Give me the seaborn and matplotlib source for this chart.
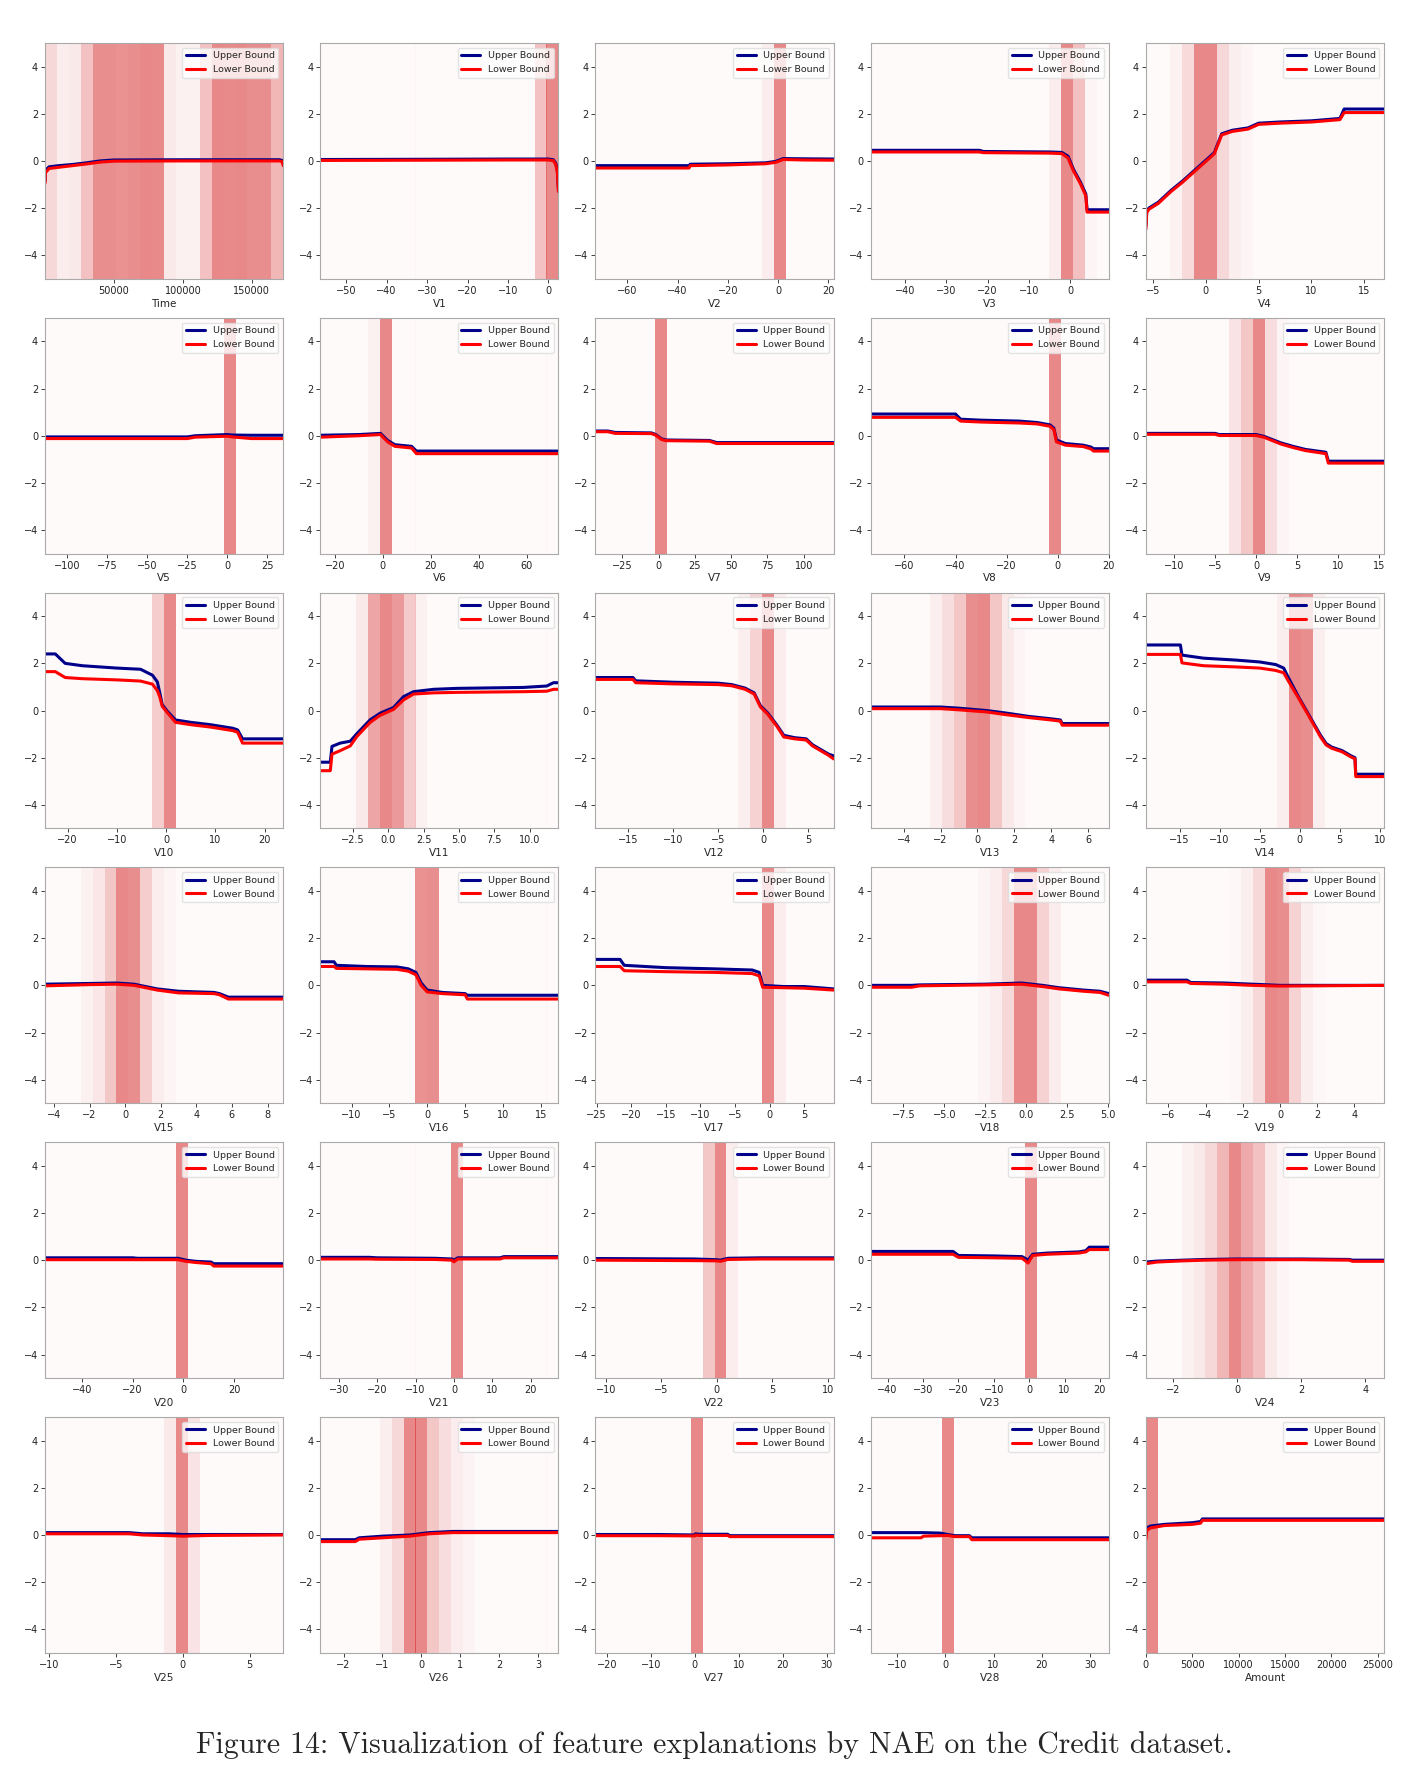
import numpy as np
import matplotlib
matplotlib.use("Agg")
import matplotlib.pyplot as plt
from matplotlib.colors import to_rgba
from matplotlib.ticker import FixedLocator
import seaborn as sns

# feature names and value ranges (min, max) of the Credit dataset
FEATURES = ["Time"] + ["V%d" % i for i in range(1, 29)] + ["Amount"]
X_RANGES = [(0, 172792), (-56.41, 2.45), (-72.72, 22.06), (-48.33, 9.38), (-5.68, 16.88),
            (-113.74, 34.80), (-26.16, 73.30), (-43.56, 120.59), (-73.22, 20.01), (-13.43, 15.59),
            (-24.59, 23.75), (-4.80, 12.02), (-18.68, 7.85), (-5.79, 7.13), (-19.21, 10.53),
            (-4.50, 8.88), (-14.13, 17.32), (-25.16, 9.25), (-9.50, 5.04), (-7.21, 5.59),
            (-54.50, 39.42), (-34.83, 27.20), (-10.93, 10.50), (-44.81, 22.53), (-2.84, 4.58),
            (-10.30, 7.52), (-2.60, 3.52), (-22.57, 31.61), (-15.43, 33.85), (0, 25691)]
# x tick spacing per panel
XTICK_STEP = [50000, 10, 20, 10, 5, 25, 20, 25, 20, 5,
              10, 2.5, 5, 2, 5, 2, 5, 5, 2.5, 2,
              20, 10, 5, 10, 2, 5, 1, 10, 10, 5000]
TIME_TICKS = [50000, 100000, 150000]

# density shading: 20 equal bins per feature, {bin index: relative level}
N_BINS = 20
TIME_LEVELS = [0.3, 0.12, 0.15, 0.5, 0.95, 0.95, 0.92, 0.95, 1.0, 0.98,
               0.15, 0.08, 0.08, 0.5, 1.0, 0.98, 1.0, 0.95, 0.95, 0.6]
BIN_LEVELS = [
    dict(enumerate(TIME_LEVELS)),
    {18: 0.5, 19: 1.0},
    {14: 0.12, 15: 1.0},
    {15: 0.12, 16: 1.0, 17: 0.5, 18: 0.04},
    {2: 0.07, 3: 0.28, 4: 1.0, 5: 1.0, 6: 0.3, 7: 0.1, 8: 0.04},
    {15: 1.0},
    {4: 0.08, 5: 1.0},
    {5: 1.0},
    {15: 1.0},
    {7: 0.2, 8: 0.45, 9: 1.0, 10: 0.25, 11: 0.04},
    {9: 0.4, 10: 1.0},
    {3: 0.15, 4: 0.75, 5: 1.0, 6: 0.85, 7: 0.42, 8: 0.08},
    {12: 0.1, 13: 0.35, 14: 1.0, 15: 0.12},
    {5: 0.1, 6: 0.25, 7: 0.45, 8: 0.95, 9: 1.0, 10: 0.45, 11: 0.15, 12: 0.04},
    {11: 0.1, 12: 1.0, 13: 0.95, 14: 0.1},
    {3: 0.08, 4: 0.18, 5: 0.45, 6: 1.0, 7: 0.95, 8: 0.4, 9: 0.12, 10: 0.04},
    {8: 0.92, 9: 0.95},
    {14: 1.0, 15: 0.12},
    {9: 0.04, 10: 0.12, 11: 0.3, 12: 1.0, 13: 1.0, 14: 0.35, 15: 0.12},
    {7: 0.03, 8: 0.1, 9: 0.3, 10: 1.0, 11: 0.95, 12: 0.35, 13: 0.1, 14: 0.03},
    {11: 1.0},
    {11: 1.0},
    {9: 0.45, 10: 1.0, 11: 0.12},
    {13: 1.0},
    {3: 0.08, 4: 0.15, 5: 0.3, 6: 0.6, 7: 1.0, 8: 0.7, 9: 0.5, 10: 0.15, 11: 0.04},
    {10: 0.15, 11: 1.0, 12: 0.2},
    {5: 0.1, 6: 0.3, 7: 1.0, 8: 1.0, 9: 0.45, 10: 0.25, 11: 0.12, 12: 0.06},
    {8: 1.0},
    {6: 1.0},
    {0: 1.0},
]

# shape functions: x knots, upper bound, lower bound
CURVE_X = [
    [0, 300, 3000, 10000, 20000, 30000, 40000, 50000, 100000, 170000, 172000, 172792],
    [-56.41, -30, -10, 0, 1.2, 1.8, 2.2, 2.45],
    [-72.72, -35.5, -35, -20, -5, -1, 2, 10, 22.06],
    [-48.33, -22, -21, -5, -2, -0.5, 0.8, 2.5, 3.8, 4.1, 9.38],
    [-5.68, -5.6, -5.4, -4.5, -3.3, -2.2, -1.2, -0.2, 0.8, 1.5, 2.5, 4.0, 5.0, 7.0, 10.0, 12.7, 13.1, 16.88],
    [-113.74, -25, -20, 0, 3, 15, 34.80],
    [-26.16, -10, -1, 2, 5, 12, 14, 73.30],
    [-43.56, -35, -30, -5, -2, 2, 5, 35, 40, 120.59],
    [-73.22, -40, -38, -30, -15, -8, -3, -1.5, -0.5, 3, 10, 13, 14, 20.01],
    [-13.43, -5, -4.5, 0, 1, 3, 4.5, 6, 8.5, 8.8, 15.59],
    [-24.59, -22.5, -20.5, -17, -10, -5.2, -2.8, -1.8, -1.3, -0.8, 0.2, 1.9, 5, 9, 13.5, 14.5, 15.5, 23.75],
    [-4.80, -4.09, -3.97, -3.39, -2.68, -2.21, -1.27, -0.56, 0.38, 1.08, 1.79, 3.2, 4.85, 9.55, 11.2, 11.67, 12.02],
    [-18.68, -14.5, -14.2, -10, -5, -3.5, -2, -1, -0.3, 0.5, 1.5, 2.3, 3.5, 4.8, 5.5, 7.3, 7.85],
    [-5.79, -2, -1, 0.5, 1.5, 2.8, 4.0, 4.5, 4.6, 7.13],
    [-19.21, -14.9, -14.7, -12, -8, -5, -3, -2, -1.5, -0.1, 1.2, 2.6, 3.3, 4, 5.3, 6.3, 6.9, 7.0, 10.53],
    [-4.50, -2, -0.5, 0.5, 1.8, 3, 5, 5.3, 5.8, 8.88],
    [-14.13, -12.3, -12.0, -8, -4, -2.5, -1.5, -0.8, 0, 2, 5, 5.3, 17.32],
    [-25.16, -21.6, -21.0, -15, -8, -2.5, -1.5, -1.0, 2, 5, 9.25],
    [-9.50, -7, -6.5, -2.5, -0.3, 1, 2, 3.5, 4.5, 5.04],
    [-7.21, -5, -4.8, -3, -1.5, 0, 2, 5.59],
    [-54.50, -20, -18, -2, 1, 5, 11, 12, 39.42],
    [-34.83, -22, -20, -5, -0.5, 0, 1, 12, 13, 27.20],
    [-10.93, -2, 0, 0.3, 1, 4, 10.50],
    [-44.81, -21.5, -20, -10, -2, -0.3, 1, 5, 14, 16, 17, 22.53],
    [-2.84, -2.5, -1.7, -1, 0, 2, 3.5, 3.6, 4.58],
    [-10.30, -4, -3, -1, 0, 2, 7.52],
    [-2.60, -1.7, -1.6, -1.0, -0.3, 0.2, 0.8, 3.52],
    [-22.57, -8, 0, 0.2, 1, 7.5, 8, 31.61],
    [-15.43, -5, -4.5, -1, 0.5, 2, 5, 5.5, 33.85],
    [0, 100, 500, 2000, 5000, 5900, 6100, 25691],
]
CURVE_UP = [
    [-0.85, -0.4, -0.25, -0.2, -0.15, -0.08, 0.0, 0.04, 0.05, 0.05, 0.02, -0.1],
    [0.06, 0.07, 0.08, 0.08, 0.05, -0.1, -0.4, -1.2],
    [-0.2, -0.2, -0.14, -0.12, -0.08, -0.02, 0.1, 0.09, 0.08],
    [0.45, 0.45, 0.4, 0.38, 0.36, 0.2, -0.35, -0.9, -1.4, -2.07, -2.07],
    [-2.75, -2.15, -2.0, -1.75, -1.25, -0.85, -0.45, -0.05, 0.35, 1.15, 1.3, 1.4, 1.6, 1.65, 1.7, 1.8, 2.2, 2.2],
    [-0.05, -0.05, 0.0, 0.05, 0.03, 0.02, 0.02],
    [0.02, 0.05, 0.1, -0.2, -0.38, -0.45, -0.65, -0.65],
    [0.2, 0.2, 0.14, 0.12, 0.05, -0.13, -0.18, -0.2, -0.29, -0.29],
    [0.92, 0.92, 0.7, 0.66, 0.62, 0.56, 0.46, 0.32, -0.18, -0.33, -0.4, -0.48, -0.55, -0.55],
    [0.1, 0.1, 0.05, 0.05, -0.03, -0.3, -0.45, -0.58, -0.7, -1.08, -1.08],
    [2.4, 2.4, 2.0, 1.9, 1.8, 1.75, 1.5, 1.22, 0.75, 0.25, -0.02, -0.4, -0.5, -0.6, -0.75, -0.82, -1.2, -1.2],
    [-2.19, -2.19, -1.52, -1.38, -1.3, -0.98, -0.39, -0.11, 0.13, 0.59, 0.8, 0.9, 0.94, 0.98, 1.04, 1.18, 1.18],
    [1.4, 1.4, 1.26, 1.2, 1.16, 1.1, 0.95, 0.75, 0.2, -0.1, -0.6, -1.05, -1.15, -1.2, -1.45, -1.85, -1.92],
    [0.15, 0.15, 0.1, 0.0, -0.1, -0.25, -0.35, -0.4, -0.55, -0.55],
    [2.78, 2.78, 2.35, 2.22, 2.14, 2.06, 1.95, 1.8, 1.45, 0.55, -0.22, -1.05, -1.4, -1.55, -1.7, -1.9, -2.0, -2.7, -2.7],
    [0.05, 0.08, 0.1, 0.05, -0.15, -0.25, -0.3, -0.35, -0.5, -0.5],
    [1.0, 1.0, 0.85, 0.8, 0.78, 0.7, 0.55, 0.1, -0.2, -0.3, -0.35, -0.42, -0.42],
    [1.1, 1.1, 0.85, 0.75, 0.7, 0.65, 0.55, 0.0, -0.05, -0.05, -0.15],
    [0.0, 0.0, 0.02, 0.05, 0.1, 0.0, -0.1, -0.2, -0.25, -0.35],
    [0.22, 0.22, 0.12, 0.1, 0.05, 0.0, 0.0, 0.0],
    [0.1, 0.1, 0.08, 0.08, 0.0, -0.05, -0.08, -0.15, -0.15],
    [0.12, 0.12, 0.1, 0.08, 0.05, 0.0, 0.1, 0.1, 0.15, 0.15],
    [0.07, 0.05, 0.02, 0.0, 0.08, 0.1, 0.1],
    [0.37, 0.37, 0.2, 0.18, 0.15, 0.0, 0.25, 0.3, 0.35, 0.4, 0.55, 0.55],
    [-0.08, -0.04, 0.0, 0.03, 0.05, 0.05, 0.03, 0.0, 0.0],
    [0.1, 0.1, 0.05, 0.05, 0.02, 0.02, 0.02],
    [-0.2, -0.2, -0.12, -0.05, 0.0, 0.1, 0.15, 0.15],
    [0.02, 0.02, 0.0, 0.05, 0.03, 0.03, -0.03, -0.03],
    [0.1, 0.1, 0.1, 0.08, 0.02, -0.03, -0.03, -0.12, -0.12],
    [0.1, 0.3, 0.38, 0.45, 0.52, 0.57, 0.68, 0.68],
]
CURVE_LO = [
    [-0.95, -0.5, -0.32, -0.27, -0.2, -0.13, -0.05, -0.01, 0.0, 0.0, -0.03, -0.2],
    [0.02, 0.03, 0.04, 0.04, 0.01, -0.15, -0.5, -1.3],
    [-0.3, -0.3, -0.2, -0.17, -0.12, -0.06, 0.06, 0.04, 0.03],
    [0.38, 0.38, 0.35, 0.33, 0.31, 0.12, -0.42, -0.97, -1.48, -2.17, -2.17],
    [-2.9, -2.2, -2.05, -1.8, -1.3, -0.9, -0.5, -0.1, 0.3, 1.1, 1.25, 1.35, 1.55, 1.6, 1.65, 1.75, 2.05, 2.05],
    [-0.12, -0.12, -0.06, -0.02, -0.05, -0.12, -0.12],
    [-0.06, 0.0, 0.05, -0.26, -0.45, -0.52, -0.76, -0.76],
    [0.17, 0.17, 0.1, 0.09, 0.02, -0.16, -0.21, -0.23, -0.33, -0.33],
    [0.78, 0.78, 0.62, 0.58, 0.54, 0.5, 0.4, 0.26, -0.26, -0.4, -0.46, -0.56, -0.65, -0.65],
    [0.06, 0.06, 0.01, 0.01, -0.07, -0.35, -0.5, -0.63, -0.76, -1.16, -1.16],
    [1.65, 1.65, 1.4, 1.35, 1.3, 1.25, 1.12, 0.85, 0.58, 0.18, -0.08, -0.5, -0.6, -0.7, -0.85, -0.92, -1.38, -1.38],
    [-2.55, -2.55, -1.85, -1.7, -1.5, -1.1, -0.5, -0.2, 0.05, 0.45, 0.7, 0.75, 0.77, 0.8, 0.82, 0.9, 0.9],
    [1.32, 1.32, 1.18, 1.13, 1.1, 1.05, 0.9, 0.7, 0.15, -0.15, -0.65, -1.12, -1.2, -1.25, -1.5, -1.9, -2.05],
    [0.08, 0.08, 0.03, -0.06, -0.17, -0.3, -0.4, -0.45, -0.62, -0.62],
    [2.38, 2.38, 2.02, 1.9, 1.85, 1.8, 1.7, 1.6, 1.3, 0.5, -0.27, -1.12, -1.46, -1.6, -1.75, -1.95, -2.05, -2.8, -2.8],
    [-0.02, 0.03, 0.05, 0.0, -0.2, -0.32, -0.35, -0.4, -0.58, -0.58],
    [0.8, 0.8, 0.72, 0.7, 0.68, 0.6, 0.45, 0.0, -0.28, -0.35, -0.4, -0.58, -0.58],
    [0.8, 0.8, 0.62, 0.58, 0.55, 0.5, 0.4, -0.08, -0.1, -0.12, -0.2],
    [-0.08, -0.08, -0.02, 0.02, 0.05, -0.05, -0.15, -0.25, -0.3, -0.42],
    [0.15, 0.15, 0.08, 0.05, 0.0, -0.03, -0.02, 0.0],
    [0.02, 0.02, 0.02, 0.02, -0.05, -0.1, -0.15, -0.25, -0.25],
    [0.05, 0.05, 0.04, 0.03, 0.0, -0.07, 0.05, 0.05, 0.1, 0.1],
    [0.0, -0.02, -0.03, -0.05, 0.03, 0.05, 0.05],
    [0.25, 0.25, 0.12, 0.1, 0.08, -0.12, 0.2, 0.25, 0.3, 0.35, 0.45, 0.45],
    [-0.15, -0.08, -0.03, 0.0, 0.02, 0.02, 0.0, -0.05, -0.05],
    [0.05, 0.05, 0.0, -0.03, -0.05, -0.02, 0.0],
    [-0.28, -0.28, -0.18, -0.12, -0.05, 0.05, 0.1, 0.1],
    [-0.03, -0.03, -0.04, 0.0, -0.02, -0.02, -0.07, -0.07],
    [-0.12, -0.12, -0.05, -0.03, -0.02, -0.07, -0.07, -0.2, -0.2],
    [-0.2, 0.2, 0.3, 0.4, 0.45, 0.5, 0.62, 0.62],
]

CAPTION = "Figure 14: Visualization of feature explanations by NAE on the Credit dataset."

sns.set_style("ticks")
plt.rcParams["font.family"] = ["DejaVu Sans"]

fig, axes = plt.subplots(6, 5, figsize=(14.11, 17.76), dpi=100)
fig.subplots_adjust(left=0.0319, right=0.9809, top=0.9758, bottom=0.0693,
                    wspace=0.1555, hspace=0.165)

for i, ax in enumerate(axes.flat):
    lo, hi = X_RANGES[i]
    edges = np.linspace(lo, hi, N_BINS + 1)
    width = edges[1] - edges[0]
    levels = [BIN_LEVELS[i].get(k, 0.0) for k in range(N_BINS)]
    colors = [to_rgba("tab:red", 0.02 + 0.53 * lv) for lv in levels]
    ax.bar(edges[:-1], 10, bottom=-5, width=width * 1.002, align="edge",
           color=colors, linewidth=0, zorder=0)

    sns.lineplot(x=CURVE_X[i], y=CURVE_UP[i], ax=ax, color="#00008b", lw=2.2,
                 label="Upper Bound", estimator=None, sort=False)
    sns.lineplot(x=CURVE_X[i], y=CURVE_LO[i], ax=ax, color="red", lw=2.2,
                 label="Lower Bound", estimator=None, sort=False)

    step = XTICK_STEP[i]
    if FEATURES[i] == "Time":
        ticks = TIME_TICKS
    else:
        ticks = np.arange(np.ceil(lo / step) * step, hi + 1e-9, step)
    ax.xaxis.set_major_locator(FixedLocator(ticks))
    ax.set_xlim(lo, hi)
    ax.set_ylim(-5, 5)
    ax.set_yticks([-4, -2, 0, 2, 4])
    ax.set_xlabel(FEATURES[i], fontsize=7.5, labelpad=2)
    ax.set_ylabel("")
    ax.tick_params(labelsize=7, length=3, width=0.6, colors="#222222", pad=2)
    for sp in ax.spines.values():
        sp.set_color("#aaaaaa")
        sp.set_linewidth(0.8)
    ax.legend(loc="upper right", fontsize=6.8, handlelength=2.0, borderpad=0.4,
              labelspacing=0.5, framealpha=0.8, edgecolor="#dddddd")

fig.text(0.5065, 1 - 1745 / 1776, CAPTION, ha="center", va="center",
         fontsize=21.5, fontfamily="cmr10")

fig.savefig("out.png", dpi=100)
